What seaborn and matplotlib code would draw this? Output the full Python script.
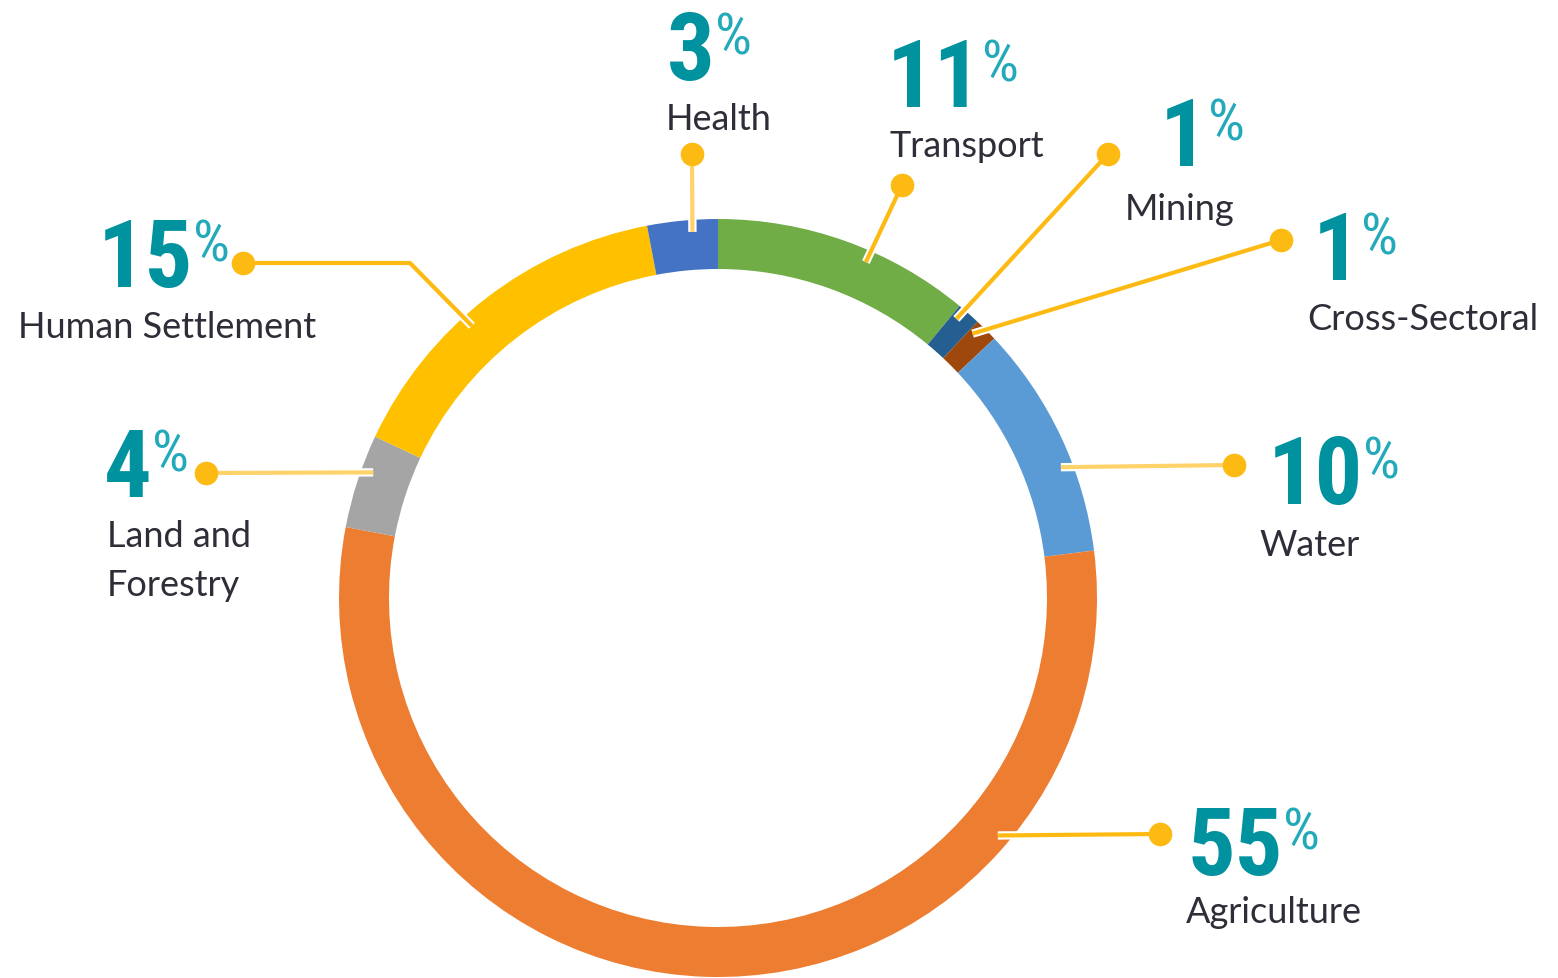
import numpy as np
import matplotlib
matplotlib.use("Agg")
import matplotlib.pyplot as plt
import matplotlib.patheffects as pe
from matplotlib import font_manager as fm
import seaborn as sns

# data
sectors = ["Transport", "Mining", "Cross-Sectoral", "Water", "Agriculture",
           "Land and\nForestry", "Human Settlement", "Health"]
shares = [11, 1, 1, 10, 55, 4, 15, 3]
colors = ["#70AD47", "#255E91", "#9E480E", "#5B9BD5", "#ED7D31",
          "#A5A5A5", "#FFC000", "#4472C4"]

# layout (pixel coords of the 1558x979 canvas)
W, H = 1558, 979
center = (718, 599)
radius = 379
ring_w = 50
anchor_frac = [0.6, 0.25, 0.2, 0.62, 0.24, 0.64, 0.42, 0.63]
dots = [(902, 186), (1108, 155), (1281, 241), (1234, 466), (1160, 835),
        (206, 474), (243, 264), (692, 155)]
elbows = [None, None, None, None, None, None, (410, 264), None]
num_pos = [(887, 107), (1160, 166), (1313, 280), (1268, 504), (1188, 875),
           (104, 497), (98, 287), (667, 80)]
lab_pos = [(890, 157), (1125, 220), (1307, 330), (1259, 556), (1186, 923),
           (107, 547), (18, 338), (666, 130)]

sns.set_style("white")
names = {f.name for f in fm.fontManager.ttflist}
num_font, num_stretch = "DejaVu Sans", "condensed"
for cand in ["Liberation Sans Narrow", "Roboto Condensed", "Open Sans Condensed",
             "Noto Sans Condensed", "DejaVu Sans Condensed"]:
    if cand in names:
        num_font, num_stretch = cand, "normal"
        break
lab_font = "Lato" if "Lato" in names else "DejaVu Sans"

fig = plt.figure(figsize=(W / 100, H / 100), dpi=100)
ax = fig.add_axes([0, 0, 1, 1])
ax.axis("off")

cx, cy = center[0], H - center[1]
wedges, _ = ax.pie(shares, colors=colors, startangle=90, counterclock=False,
                   radius=radius, center=(cx, cy),
                   wedgeprops=dict(width=ring_w, linewidth=0))
ax.set_xlim(0, W)
ax.set_ylim(0, H)
ax.set_aspect("equal")

gold = "#FDBA12"
gold_light = "#FFD36A"
teal = "#00929E"
teal_light = "#22A9BA"
line_cols = [gold, gold, gold, gold_light, gold, gold_light, gold, gold_light]

for i, w in enumerate(wedges):
    th = w.theta1 + (w.theta2 - w.theta1) * (1 - anchor_frac[i])
    r = radius - 12
    ax_pt = (cx + r * np.cos(np.radians(th)), cy + r * np.sin(np.radians(th)))
    dx, dy = dots[i][0], H - dots[i][1]
    xs, ys = [ax_pt[0]], [ax_pt[1]]
    if elbows[i] is not None:
        xs.append(elbows[i][0])
        ys.append(H - elbows[i][1])
    xs.append(dx)
    ys.append(dy)
    ax.plot(xs, ys, color=line_cols[i], lw=3, solid_capstyle="butt", zorder=3,
            path_effects=[pe.Stroke(linewidth=6, foreground="white"), pe.Normal()])
    ax.plot(dx, dy, "o", ms=17, color=gold, mec="none", zorder=4)

    nx, ny = num_pos[i]
    t = ax.text(nx, H - ny, str(shares[i]), fontsize=68, fontweight="bold",
                family=num_font, fontstretch=num_stretch, color=teal,
                ha="left", va="baseline", zorder=5)
    ax.annotate("%", xy=(1, 1), xycoords=t, xytext=(0, -2), textcoords="offset points",
                fontsize=42, family=num_font, fontstretch=num_stretch,
                color=teal_light, ha="left", va="top")
    lx, ly = lab_pos[i]
    lines = sectors[i].split("\n")
    for k, line in enumerate(lines):
        ax.text(lx, H - ly - k * 49, line, fontsize=26, family=lab_font,
                color="#2E2E38", ha="left", va="baseline")

fig.savefig("out.png", dpi=100)
